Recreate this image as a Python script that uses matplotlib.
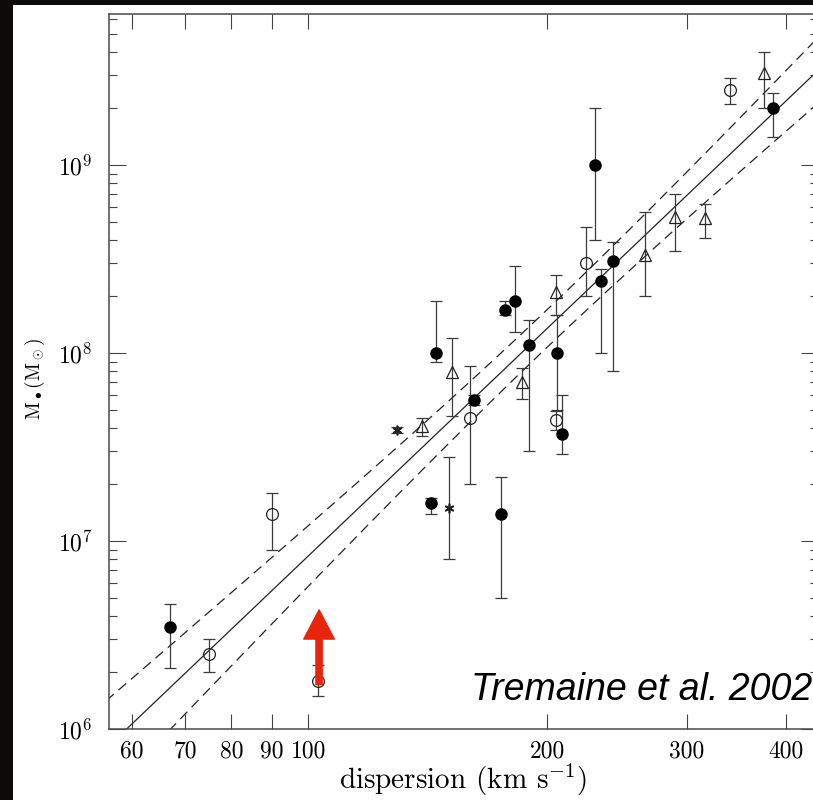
import numpy as np
import matplotlib
matplotlib.use("Agg")
import matplotlib.pyplot as plt
from matplotlib.patches import Rectangle, FancyArrowPatch
from matplotlib.ticker import FixedLocator, NullLocator, LogLocator, NullFormatter

plt.rcParams['mathtext.fontset'] = 'cm'
plt.rcParams['font.family'] = ['cmr10', 'DejaVu Serif']
plt.rcParams['axes.unicode_minus'] = False

# filled circles: sigma (km/s), mass, lower / upper error limits
sigma_fill = [67, 143, 145, 162, 175, 177, 182, 190, 206, 209, 230, 234, 242, 385]
mass_fill = [3.5e6, 1.6e7, 1.0e8, 5.6e7, 1.4e7, 1.7e8, 1.9e8, 1.1e8, 1.0e8, 3.7e7, 1.0e9, 2.4e8, 3.1e8, 2.0e9]
lo_fill = [2.1e6, 1.4e7, 9.0e7, 5.3e7, 5.0e6, 1.6e8, 1.3e8, 3.0e7, 5.0e7, 2.9e7, 4.0e8, 1.0e8, 8.0e7, 1.4e9]
hi_fill = [4.6e6, 1.7e7, 1.9e8, 6.0e7, 2.2e7, 1.9e8, 2.9e8, 1.5e8, 1.6e8, 6.0e7, 2.0e9, 2.8e8, 3.9e8, 2.4e9]

# open circles
sigma_open = [75, 90, 103, 160, 205, 224, 340]
mass_open = [2.5e6, 1.4e7, 1.8e6, 4.5e7, 4.4e7, 3.0e8, 2.5e9]
lo_open = [2.0e6, 9.0e6, 1.5e6, 2.0e7, 3.9e7, 2.0e8, 2.1e9]
hi_open = [3.0e6, 1.8e7, 2.2e6, 8.5e7, 4.9e7, 4.7e8, 2.9e9]

# open triangles
sigma_tri = [139, 152, 186, 205, 266, 290, 316, 375]
mass_tri = [4.1e7, 7.9e7, 7.0e7, 2.1e8, 3.3e8, 5.3e8, 5.2e8, 3.1e9]
lo_tri = [3.6e7, 4.6e7, 5.7e7, 1.6e8, 2.0e8, 3.5e8, 4.1e8, 2.0e9]
hi_tri = [4.5e7, 1.2e8, 8.3e7, 2.6e8, 5.6e8, 7.0e8, 6.2e8, 4.0e9]

# asterisks
sigma_star = [129.5, 150.6]
mass_star = [3.9e7, 1.5e7]
lo_star = [3.75e7, 8.0e6]
hi_star = [4.05e7, 2.8e7]

# best fit log M = alpha + beta log(sigma/200), band half-width ~ sqrt(da^2 + (db x)^2)
alpha, beta = 8.13, 4.02
band_a, band_b = 0.10, 0.42

xticks = [60, 70, 80, 90, 100, 200, 300, 400]
yticks = [1e6, 1e7, 1e8, 1e9]
ytick_labels = [r'$10^{6}$', r'$10^{7}$', r'$10^{8}$', r'$10^{9}$']

fig = plt.figure(figsize=(8.13, 8.0), dpi=100, facecolor='#0d0a0a')
panel = Rectangle((13 / 813, 0), 1, 795 / 800, transform=fig.transFigure,
                  facecolor='white', edgecolor='none', zorder=-10)
fig.add_artist(panel)
ax = fig.add_axes([109 / 813, 71 / 800, 709 / 813, 715 / 800])
ax.set_facecolor('white')
ax.set_xscale('log')
ax.set_yscale('log')
ax.set_xlim(56.1, 439)
ax.set_ylim(1e6, 6.35e9)

# fit line and band
s = np.logspace(np.log10(50), np.log10(500), 200)
xs = np.log10(s / 200)
fit = alpha + beta * xs
half = np.sqrt(band_a ** 2 + (band_b * xs) ** 2)
ax.plot(s, 10 ** fit, color='#222222', lw=0.9)
ax.plot(s, 10 ** (fit + half), color='#222222', lw=0.9, dashes=(8, 5))
ax.plot(s, 10 ** (fit - half), color='#222222', lw=0.9, dashes=(8, 5))

ebar = dict(fmt='none', ecolor='#3a3a3a', elinewidth=0.9, capsize=4, capthick=0.9, zorder=2)


def yerr(m, lo, hi):
    m = np.array(m)
    return [m - np.array(lo), np.array(hi) - m]


ax.errorbar(sigma_fill, mass_fill, yerr=yerr(mass_fill, lo_fill, hi_fill), **ebar)
ax.errorbar(sigma_open, mass_open, yerr=yerr(mass_open, lo_open, hi_open), **ebar)
ax.errorbar(sigma_tri, mass_tri, yerr=yerr(mass_tri, lo_tri, hi_tri), **ebar)
ax.errorbar(sigma_star, mass_star, yerr=yerr(mass_star, lo_star, hi_star), **ebar)

ax.plot(sigma_fill, mass_fill, 'o', ms=8, mfc='black', mec='black', zorder=3)
ax.plot(sigma_open, mass_open, 'o', ms=8.5, mfc='none', mec='#222222', mew=0.9, zorder=3)
ax.plot(sigma_tri, mass_tri, '^', ms=8, mfc='none', mec='#222222', mew=0.9, zorder=3)
ax.plot(sigma_star, mass_star, marker=(6, 2, 0), ls='none', ms=7, mec='#222222', mew=1.2, zorder=3)

# red arrow
arrow = FancyArrowPatch((103.2, 1.72e6), (103.2, 4.3e6),
                        arrowstyle='simple,head_length=21,head_width=22,tail_width=4.5',
                        mutation_scale=1, color='#e6250c', shrinkA=0, shrinkB=0, zorder=5)
ax.add_patch(arrow)

ax.text(471 / 813, 1 - 700 / 800, 'Tremaine et al. 2002', transform=fig.transFigure,
        family='Liberation Sans', style='italic', fontsize=27, color='black', zorder=6)

# ticks
ax.xaxis.set_major_locator(FixedLocator(xticks))
ax.xaxis.set_minor_locator(NullLocator())
ax.set_xticklabels([str(t) for t in xticks])
ax.yaxis.set_major_locator(FixedLocator(yticks))
ax.set_yticklabels(ytick_labels)
ax.yaxis.set_minor_locator(LogLocator(base=10, subs=np.arange(2, 10)))
ax.yaxis.set_minor_formatter(NullFormatter())

ax.tick_params(axis='x', which='major', direction='in', length=11, width=0.8,
               color='#444444', top=True, labelsize=17, pad=8)
ax.tick_params(axis='y', which='major', direction='in', length=12, width=0.8,
               color='#444444', right=True, labelsize=17, pad=12)
ax.tick_params(axis='y', which='minor', direction='in', length=6, width=0.8,
               color='#444444', right=True)

for sp in ax.spines.values():
    sp.set_color('#4a4a4a')
    sp.set_linewidth(1.1)

ax.set_xlabel(r'dispersion (km s$^{-1}$)', fontsize=21)
ax.xaxis.set_label_coords(0.5, -0.046)
ax.set_ylabel(r'M$_\bullet$(M$_\odot$)', fontsize=14)
ax.yaxis.set_label_coords(-0.088, 0.49)

fig.savefig('out.png', dpi=100, facecolor=fig.get_facecolor())
